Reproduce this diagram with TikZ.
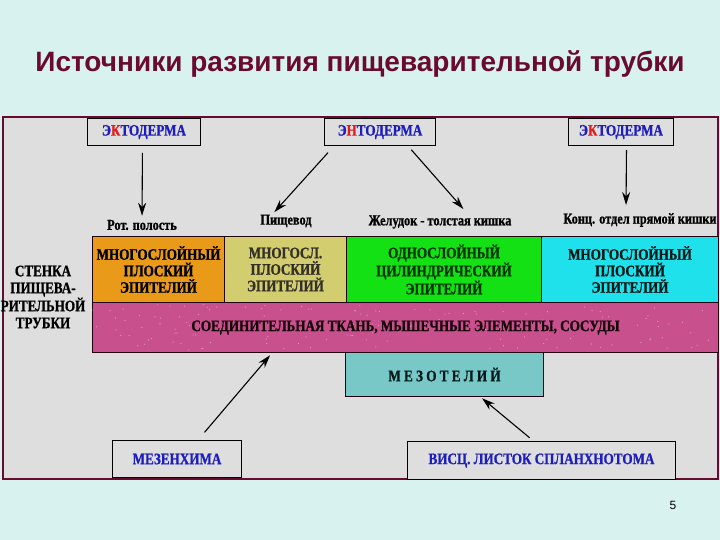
\documentclass[tikz,border=0pt]{standalone}
\usepackage{fontspec}
\setmainfont{Liberation Serif}
\newfontfamily\boxfnt{Liberation Serif}[FakeStretch=0.82,BoldFeatures={FakeBold=1}]
\newfontfamily\sansfnt{Liberation Sans}
\usetikzlibrary{arrows.meta,positioning}
\definecolor{bgcyan}{HTML}{D8F3EF}
\definecolor{panelgray}{HTML}{DEDEDE}
\definecolor{maroon}{HTML}{6A0A2E}
\definecolor{srcblue}{HTML}{1E1EBE}
\definecolor{srcred}{HTML}{E01E1E}
\definecolor{oranged}{HTML}{E89A18}
\definecolor{khaki}{HTML}{D2CD6E}
\definecolor{greenl}{HTML}{14E114}
\definecolor{cyanl}{HTML}{1EE1EB}
\definecolor{pinkl}{HTML}{C8508C}
\definecolor{teall}{HTML}{78C8C8}

\begin{document}
\begin{tikzpicture}[x=1pt,y=-1pt,
  font=\boxfnt\bfseries\fontsize{16}{16.5}\selectfont,
  panel/.style={fill=panelgray,draw=maroon,line width=1.6pt},
  src/.style={draw=black,line width=1pt,fill=panelgray,text=srcblue,inner sep=0pt,anchor=north west,minimum height=27pt},
  lab/.style={font=\boxfnt\bfseries\fontsize{15}{16}\selectfont,inner sep=1pt},
  layer/.style={draw=black!70!maroon,line width=1pt,inner sep=0pt,anchor=north west,align=center},
  ar/.style={-{Stealth[length=13pt,width=8pt]},line width=1.1pt}]
\fill[bgcyan] (0,0) rectangle (720,540);
\draw[panel] (3,117) rectangle (718,479);
\node[font=\sansfnt\bfseries\fontsize{28}{30}\selectfont,text=maroon] (title) at (360,64) {Источники развития пищеварительной трубки};
\node[src,minimum width=113pt] (ekto1) at (87,118) {Э\textcolor{srcred}{К}ТОДЕРМА};
\node[src,minimum width=111pt] (ento) at (324,118) {Э\textcolor{srcred}{Н}ТОДЕРМА};
\node[src,minimum width=105pt] (ekto2) at (568,118) {Э\textcolor{srcred}{К}ТОДЕРМА};
\node[lab] (rot) at (142,225) {Рот. полость};
\node[lab] (pisch) at (286,221) {Пищевод};
\node[lab] (zhel) at (440,222) {Желудок - толстая кишка};
\node[lab] (konc) at (640,220) {Конц. отдел прямой кишки};
\node[layer,fill=oranged,minimum width=132pt,minimum height=66pt] (ep1) at (92,236) {МНОГОСЛОЙНЫЙ\\ПЛОСКИЙ\\ЭПИТЕЛИЙ};
\node[layer,fill=khaki,text=black!85!olive,minimum width=122pt,minimum height=66pt] (ep2) at (224,236) {МНОГОСЛ.\\ПЛОСКИЙ\\ЭПИТЕЛИЙ};
\node[layer,fill=greenl,text=black!80!green,minimum width=195pt,minimum height=66pt] (ep3) at (346,236) {ОДНОСЛОЙНЫЙ\\ЦИЛИНДРИЧЕСКИЙ\\ЭПИТЕЛИЙ};
\node[layer,fill=cyanl,text=black!80!teal,minimum width=177pt,minimum height=66pt] (ep4) at (541,236) {МНОГОСЛОЙНЫЙ\\ПЛОСКИЙ\\ЭПИТЕЛИЙ};
\node[layer,fill=pinkl,text=black!80!maroon,minimum width=626pt,minimum height=50pt] (soed) at (92,302) {};
\pgfmathsetseed{7}
\foreach \i in {1,...,140}
  \fill[white,opacity=0.45] ({92+626*rnd},{304+46*rnd}) circle (0.6pt);
\node[text=black!80!maroon] (soedtxt) at (soed.center) {СОЕДИНИТЕЛЬНАЯ ТКАНЬ, МЫШЕЧНЫЕ ЭЛЕМЕНТЫ, СОСУДЫ};
\node[layer,fill=teall,text=black!80!teal,minimum width=198pt,minimum height=44pt] (mezot) at (345,352) {М Е З О Т Е Л И Й};
\node[src,minimum width=129pt,minimum height=37pt] (mezen) at (112,440) {МЕЗЕНХИМА};
\node[src,minimum width=268pt,minimum height=38pt] (visc) at (407,441) {ВИСЦ. ЛИСТОК СПЛАНХНОТОМА};
\node[align=center,inner sep=0pt,font=\boxfnt\bfseries\fontsize{16}{17}\selectfont] (stenka) at (43,297) {СТЕНКА\\ПИЩЕВА-\\РИТЕЛЬНОЙ\\ТРУБКИ};
\node[font=\sansfnt\fontsize{12}{14}\selectfont] (num) at (673,505) {5};
\draw[ar,shorten <=7pt,shorten >=3pt] ([xshift=-1.5pt]ekto1.south) -- (rot.north);
\draw[ar,shorten <=9pt,shorten >=2pt] ([xshift=10pt]ento.south west) -- ([xshift=-13pt]pisch.north);
\draw[ar,shorten <=5pt,shorten >=7pt] ([xshift=-28pt]ento.south east) -- ([xshift=28pt]zhel.north);
\draw[ar,shorten <=4pt,shorten >=7pt] ([xshift=5.5pt]ekto2.south) -- ([xshift=-14pt]konc.north);
\draw[ar,shorten <=10pt,shorten >=3pt] ([xshift=21pt]mezen.north) -- ([xshift=180pt]soed.south west);
\draw[ar,shorten <=5pt,shorten >=2pt] ([xshift=-8pt]visc.north) -- ([xshift=36pt]mezot.south);
\end{tikzpicture}
\end{document}
